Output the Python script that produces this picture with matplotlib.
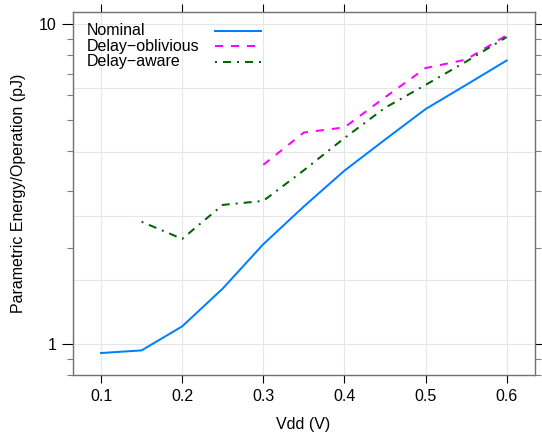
import matplotlib
matplotlib.use("Agg")
import matplotlib.pyplot as plt
from matplotlib.lines import Line2D
import numpy as np

plt.rcParams['font.family'] = ['Liberation Sans', 'DejaVu Sans']
plt.rcParams['lines.scale_dashes'] = False

# ---- data ----
vdd = [0.10, 0.15, 0.20, 0.25, 0.30, 0.35, 0.40, 0.45, 0.50, 0.55, 0.60]
nominal = [0.937, 0.955, 1.135, 1.49, 2.05, 2.69, 3.48, 4.35, 5.42, 6.45, 7.69]
vdd_oblivious = [0.30, 0.35, 0.40, 0.45, 0.50, 0.55, 0.60]
oblivious = [3.63, 4.58, 4.75, 5.9, 7.28, 7.74, 9.22]
vdd_aware = [0.15, 0.20, 0.25, 0.30, 0.35, 0.40, 0.45, 0.50, 0.55, 0.60]
aware = [2.41, 2.13, 2.72, 2.80, 3.49, 4.40, 5.47, 6.45, 7.63, 9.10]

series_names = ["Nominal", "Delay\u2212oblivious", "Delay\u2212aware"]
x_ticks = [0.1, 0.2, 0.3, 0.4, 0.5, 0.6]
x_ticklabels = ["0.1", "0.2", "0.3", "0.4", "0.5", "0.6"]
y_major = [1, 10]
y_major_labels = ["1", "10"]
y_minor = [0.8, 0.9, 2, 3, 4, 5, 6, 7, 8, 9]
y_grid = [10 ** (k * 0.2) for k in range(6)]

colors = ["#0080ff", "#ff00ff", "#006400"]
lw = 1.44
styles = [dict(linestyle='-'),
          dict(dashes=(5.76, 5.76)),
          dict(dashes=(1.44, 4.32, 5.76, 4.32))]

W, H = 542, 437
fig = plt.figure(figsize=(W / 100, H / 100), dpi=100)
L, R, T, B = 72.7, 534.5, 12, 375
ax = fig.add_axes([L / W, 1 - B / H, (R - L) / W, (B - T) / H])

ax.set_yscale('log')
ax.set_xlim(0.0651, 0.6343)
ax.set_ylim(0.80, 10.9)

# grid
for g in y_grid:
    ax.axhline(g, color='#e6e6e6', lw=0.8, zorder=0)
for xv in x_ticks:
    ax.axvline(xv, color='#e6e6e6', lw=0.8, zorder=0)

ax.plot(vdd, nominal, color=colors[0], lw=lw, **styles[0])
ax.plot(vdd_oblivious, oblivious, color=colors[1], lw=lw, **styles[1])
ax.plot(vdd_aware, aware, color=colors[2], lw=lw, **styles[2])

fs = 11.5
ax.set_xticks(x_ticks)
ax.set_xticklabels(x_ticklabels, fontsize=fs)
ax.set_yticks(y_major)
ax.set_yticklabels(y_major_labels, fontsize=fs)
ax.set_yticks(y_minor, minor=True)
ax.set_yticklabels([], minor=True)
ax.xaxis.set_minor_locator(matplotlib.ticker.NullLocator())

ax.tick_params(axis='x', which='major', direction='out', length=5.8, width=0.8,
               color='black', top=True, bottom=True, labeltop=False, pad=4)
ax.tick_params(axis='y', which='major', direction='out', length=7.9, width=0.8,
               color='black', left=True, right=True, labelright=False, pad=4)
ax.tick_params(axis='y', which='minor', direction='out', length=4.3, width=0.8,
               color='#808080', left=True, right=True)

for s in ax.spines.values():
    s.set_color('#707070')
    s.set_linewidth(1.0)

ax.set_xlabel("Vdd (V)", fontsize=fs, labelpad=10)
ax.set_ylabel("Parametric Energy/Operation (pJ)", fontsize=fs, labelpad=9)

# legend (text left, line sample right)
ah = B - T
aw = R - L
rows = [30.7, 46.2, 61.7]
tx = (86.5 - L) / aw
lx0 = (215 - L) / aw
lx1 = (261 - L) / aw
for name, c, st, yy in zip(series_names, colors, styles, rows):
    yf = (B - yy) / ah
    ax.text(tx, yf, name, transform=ax.transAxes, fontsize=fs,
            ha='left', va='center')
    ax.add_line(Line2D([lx0, lx1], [yf, yf], transform=ax.transAxes,
                       color=c, lw=lw, **st))

fig.savefig("out.png", dpi=100)
